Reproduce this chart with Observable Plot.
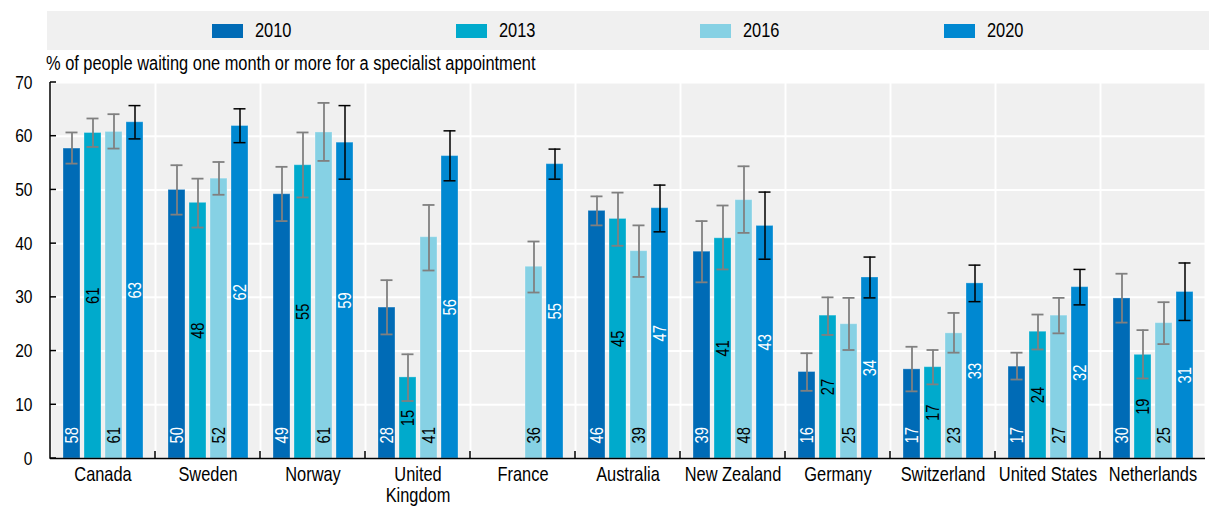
<!DOCTYPE html>
<html>
<head>
<meta charset="utf-8">
<script src="https://cdn.jsdelivr.net/npm/d3@7"></script>
<script src="https://cdn.jsdelivr.net/npm/@observablehq/plot@0.6"></script>
<style>
  body { margin: 0; background: #fff; font-family: "Liberation Sans", Arial, sans-serif; }
  #wrap { position: relative; width: 1209px; height: 509px; overflow: hidden; }
  #legend { position: absolute; left: 47px; top: 11px; width: 1162px; height: 39px; background: #f0f0f0; }
  .item { position: absolute; top: 0; height: 39px; display: flex; align-items: center; font-size: 20px; color: #000; }
  .item span { display: inline-block; transform: scaleX(0.82); transform-origin: 0 50%; }
  .sw { width: 31px; height: 14px; margin-right: 12px; }
  #subtitle { position: absolute; left: 46px; top: 53px; font-size: 20px; line-height: 20px; white-space: nowrap; color: #000; transform: scaleX(0.82); transform-origin: 0 50%; }
  #chart { position: absolute; left: 0; top: 72px; }
</style>
</head>
<body>
<div id="wrap">
  <div id="legend"></div>
  <div id="subtitle"></div>
  <div id="chart"></div>
</div>
<script>
const subtitle = "% of people waiting one month or more for a specialist appointment";
const countries = ["Canada", "Sweden", "Norway", "United Kingdom", "France", "Australia", "New Zealand", "Germany", "Switzerland", "United States", "Netherlands"];
const years = ["2010", "2013", "2016", "2020"];
const colors = ["#006bb6", "#00aacc", "#86d1e4", "#0088d1"];
const yTicks = [0, 10, 20, 30, 40, 50, 60, 70];

const value2010 = [57.7, 50.0, 49.2, 28.1, null, 46.1, 38.5, 16.1, 16.6, 17.1, 29.8];
const low2010   = [54.9, 45.4, 44.2, 23.1, null, 43.4, 32.8, 12.6, 12.5, 14.7, 25.3];
const high2010  = [60.7, 54.6, 54.3, 33.2, null, 48.8, 44.2, 19.6, 20.8, 19.7, 34.4];

const value2013 = [60.6, 47.6, 54.6, 15.1, null, 44.6, 41.0, 26.6, 17.0, 23.6, 19.3];
const low2013   = [58.0, 43.0, 48.6, 10.7, null, 39.6, 35.2, 23.0, 13.8, 20.3, 14.9];
const high2013  = [63.3, 52.1, 60.7, 19.4, null, 49.5, 47.1, 30.0, 20.2, 26.8, 23.9];

const value2016 = [60.8, 52.1, 60.7, 41.2, 35.7, 38.6, 48.1, 25.0, 23.3, 26.6, 25.2];
const low2016   = [57.7, 49.1, 55.4, 35.0, 30.9, 33.8, 42.0, 20.2, 19.7, 23.3, 21.3];
const high2016  = [64.1, 55.2, 66.2, 47.2, 40.4, 43.4, 54.4, 29.9, 27.1, 29.9, 29.1];

const value2020 = [62.6, 61.9, 58.8, 56.3, 54.8, 46.6, 43.3, 33.7, 32.6, 31.9, 31.0];
const low2020   = [59.5, 58.8, 52.0, 51.7, 52.0, 42.2, 37.1, 29.9, 29.2, 28.6, 25.7];
const high2020  = [65.7, 65.1, 65.7, 61.0, 57.6, 50.9, 49.6, 37.5, 36.0, 35.2, 36.4];

const series = [
  [value2010, low2010, high2010],
  [value2013, low2013, high2013],
  [value2016, low2016, high2016],
  [value2020, low2020, high2020]
];

const rows = [];
years.forEach((yr, j) => {
  const [v, lo, hi] = series[j];
  countries.forEach((c, i) => {
    if (v[i] != null) rows.push({country: c, year: yr, value: v[i], low: lo[i], high: hi[i]});
  });
});

const FONT = '"Liberation Sans", Arial, sans-serif';
const NARROW = 0.82;

// Legend (HTML)
const legend = document.getElementById("legend");
years.forEach((yr, j) => {
  const it = document.createElement("div");
  it.className = "item";
  it.style.left = (165 + j * 244) + "px";
  const sw = document.createElement("div");
  sw.className = "sw";
  sw.style.background = colors[j];
  const tx = document.createElement("span");
  tx.textContent = yr;
  it.appendChild(sw); it.appendChild(tx);
  legend.appendChild(it);
});
document.getElementById("subtitle").textContent = subtitle;

const grayRows = rows.filter(d => d.year !== "2020");
const blackRows = rows.filter(d => d.year === "2020");
const errOpts = {fx: "country", x: "year"};
const lab = d => String(Math.round(d.value));

const chart = Plot.plot({
  width: 1209,
  height: 437,
  marginLeft: 45,
  marginRight: 0,
  marginTop: 10,
  marginBottom: 51,
  style: {fontFamily: FONT, fontSize: "18px", background: "transparent", overflow: "visible"},
  fx: {domain: countries, padding: 0, label: null},
  x: {domain: years, paddingInner: 0.213, paddingOuter: 0.57, axis: null},
  y: {domain: [0, 70], label: null},
  color: {domain: years, range: colors},
  marks: [
    Plot.frame({fill: "#f0f0f0", stroke: null, insetLeft: 1, insetRight: 1}),
    Plot.gridY(yTicks, {stroke: "white", strokeOpacity: 1, strokeWidth: 2}),
    Plot.barY(rows, {fx: "country", x: "year", y: "value", fill: "year", stroke: "white", strokeOpacity: 0.3, strokeWidth: 1}),
    Plot.ruleX(grayRows, {...errOpts, y1: "low", y2: "high", stroke: "#808080", strokeWidth: 1.8}),
    Plot.tickY(grayRows, {...errOpts, y: "low", stroke: "#808080", strokeWidth: 1.8, insetLeft: 2.5, insetRight: 2.5}),
    Plot.tickY(grayRows, {...errOpts, y: "high", stroke: "#808080", strokeWidth: 1.8, insetLeft: 2.5, insetRight: 2.5}),
    Plot.ruleX(blackRows, {...errOpts, y1: "low", y2: "high", stroke: "#000", strokeWidth: 1.5}),
    Plot.tickY(blackRows, {...errOpts, y: "low", stroke: "#000", strokeWidth: 1.5, insetLeft: 2.5, insetRight: 2.5}),
    Plot.tickY(blackRows, {...errOpts, y: "high", stroke: "#000", strokeWidth: 1.5, insetLeft: 2.5, insetRight: 2.5}),
    Plot.text(rows.filter(d => d.year === "2010"), {fx: "country", x: "year", y: () => 0, text: lab, rotate: -90, textAnchor: "start", dy: -15, fill: "white", fontSize: 18}),
    Plot.text(rows.filter(d => d.year === "2016"), {fx: "country", x: "year", y: () => 0, text: lab, rotate: -90, textAnchor: "start", dy: -15, fill: "black", fontSize: 18}),
    Plot.text(rows.filter(d => d.year === "2013"), {fx: "country", x: "year", y: d => d.value / 2, text: lab, rotate: -90, textAnchor: "middle", fill: "black", fontSize: 18}),
    Plot.text(rows.filter(d => d.year === "2020"), {fx: "country", x: "year", y: d => d.value / 2, text: lab, rotate: -90, textAnchor: "middle", fill: "white", fontSize: 18}),
    Plot.ruleY([0], {stroke: "#000", strokeWidth: 1.5}),
    Plot.axisY(yTicks, {anchor: "left", tickSize: 0, tickPadding: 18, fontSize: 19, label: null, fill: "#000"}),
    Plot.axisFx({anchor: "bottom", tickSize: 0, tickPadding: 8, fontSize: 20, lineHeight: 1.05, label: null, fill: "#000",
      tickFormat: d => d === "United Kingdom" ? "United\nKingdom" : d})
  ]
});

document.getElementById("chart").appendChild(chart);

const svg = d3.select(chart);

// Narrow typeface look: condense every text horizontally around its own anchor
svg.selectAll("text").each(function () {
  const t = this.getAttribute("transform");
  this.setAttribute("transform", (t ? t + " " : "") + `scale(${NARROW},1)`);
});

// Axis line and inward ticks (drawn from the plot's own scales)
const fxS = chart.scale("fx");
const yS = chart.scale("y");
const g = svg.append("g").attr("stroke", "#000").attr("stroke-width", 1.5);
const xAxis = fxS.apply(countries[0]);
g.append("line").attr("x1", xAxis).attr("x2", xAxis).attr("y1", yS.apply(0) + 0.75).attr("y2", yS.apply(70));
yTicks.forEach(t => {
  g.append("line").attr("x1", xAxis).attr("x2", xAxis + 6).attr("y1", yS.apply(t)).attr("y2", yS.apply(t));
});
countries.forEach((c, i) => {
  if (i > 0) {
    const x0 = fxS.apply(c);
    g.append("line").attr("x1", x0).attr("x2", x0).attr("y1", yS.apply(0)).attr("y2", yS.apply(0) - 7);
  }
});
</script>
</body>
</html>
